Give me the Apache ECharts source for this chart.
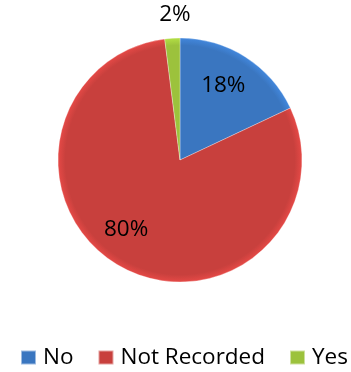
<!DOCTYPE html>
<html><head><meta charset="utf-8">
<script src="https://cdn.jsdelivr.net/npm/echarts@6/dist/echarts.min.js"></script>
<style>html,body{margin:0;padding:0;background:#fff}#c{width:351px;height:372px}</style>
</head><body><div id="c"></div>
<script>
const categories = ["No", "Not Recorded", "Yes"];
const values = [18, 80, 2];
const colors = ["#3a76c0", "#c8403d", "#9cc23c"];
const labelOffsets = [[9, -20], [-23, 14], [-1, -82]];

const CX = 180, CY = 160, R = 122;
function grad(c) {
  return {
    type: 'radial', x: CX, y: CY, r: R, global: true,
    colorStops: [
      {offset: 0, color: c},
      {offset: 0.94, color: c},
      {offset: 1, color: echarts.color.lift(c, -0.15)}
    ]
  };
}

const chart = echarts.init(document.getElementById('c'), null, {renderer: 'canvas'});
chart.setOption({
  animation: false,
  legend: {
    bottom: 3, left: 20, width: 331, padding: 0,
    itemWidth: 15, itemHeight: 14, itemGap: 24,
    icon: 'rect',
    textStyle: {fontFamily: 'Open Sans', fontSize: 22.5, color: '#000', padding: [0, 0, 0, 2]},
    data: categories.map((n, i) => ({name: n, itemStyle: {color: colors[i]}}))
  },
  series: [{
    type: 'pie',
    center: [CX, CY], radius: R,
    startAngle: 90, clockwise: true,
    avoidLabelOverlap: false,
    itemStyle: {borderColor: 'rgba(255,255,255,0.5)', borderWidth: 0.6},
    label: {
      position: 'inside', formatter: '{d}%',
      fontFamily: 'Open Sans', fontSize: 22.5, color: '#000'
    },
    labelLine: {show: false},
    emphasis: {disabled: true},
    data: categories.map((n, i) => ({
      name: n, value: values[i],
      itemStyle: {color: grad(colors[i])},
      label: {offset: labelOffsets[i]}
    }))
  }]
});
</script></body></html>
